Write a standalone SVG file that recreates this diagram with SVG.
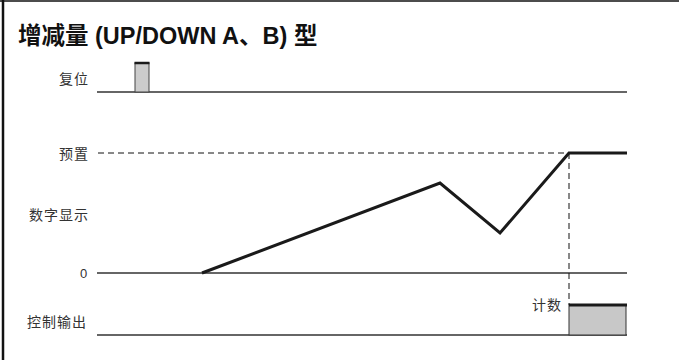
<svg xmlns="http://www.w3.org/2000/svg" width="679" height="360" viewBox="0 0 679 360">
<style>
.lbl{font-family:"Noto Sans CJK SC","Liberation Sans",sans-serif;font-size:14px;fill:#333;letter-spacing:1px}
.num{font-family:"Liberation Sans",sans-serif;font-size:13px;fill:#333}
.title{font-family:"Liberation Sans","Noto Sans CJK SC",sans-serif;font-size:23.5px;font-weight:bold;fill:#111}
.base{stroke:#333;stroke-width:1.5;fill:none}
.dash{stroke:#111;stroke-width:1;stroke-dasharray:6,4;fill:none}
.sig{stroke:#1a1a1a;stroke-width:3;fill:none;stroke-linejoin:miter}
.pulse{fill:#cccccc;stroke:#444;stroke-width:1}
</style>
<rect x="0" y="0" width="679" height="360" fill="#fff"/>
<g id="frame">
<line x1="0" y1="1" x2="679" y2="1" stroke="#111" stroke-width="1.5"/>
<line x1="3" y1="0" x2="3" y2="360" stroke="#111" stroke-width="2.5"/>
</g>
<text class="title" x="18" y="44">增减量 (UP/DOWN A、B) 型</text>
<g id="reset">
<text class="lbl" x="59" y="84">复位</text>
<line class="base" x1="97" y1="92" x2="627" y2="92"/>
<rect class="pulse" x="135" y="63" width="14" height="29"/>
<line x1="134.5" y1="63" x2="149.5" y2="63" stroke="#1a1a1a" stroke-width="2.5"/>
</g>
<g id="preset">
<text class="lbl" x="59" y="159">预置</text>
<line class="dash" x1="98" y1="153" x2="569" y2="153"/>
</g>
<g id="display">
<text class="lbl" x="29" y="220">数字显示</text>
</g>
<g id="zero">
<text class="num" x="80" y="278">0</text>
<line class="base" x1="97" y1="273" x2="627" y2="273"/>
</g>
<g id="output">
<text class="lbl" x="27" y="327">控制输出</text>
<line class="base" x1="97" y1="335" x2="627" y2="335"/>
<rect x="569" y="305" width="57" height="30" fill="#c8c8c8" stroke="#333" stroke-width="1"/>
<line x1="569" y1="305" x2="627" y2="305" stroke="#1a1a1a" stroke-width="3"/>
<text class="lbl" x="532" y="310">计数</text>
</g>
<g id="connectors">
<line class="dash" x1="569" y1="153" x2="569" y2="305"/>
<polyline class="sig" points="202,273 440,183 500,233 569,153 627,153"/>
</g>
</svg>
